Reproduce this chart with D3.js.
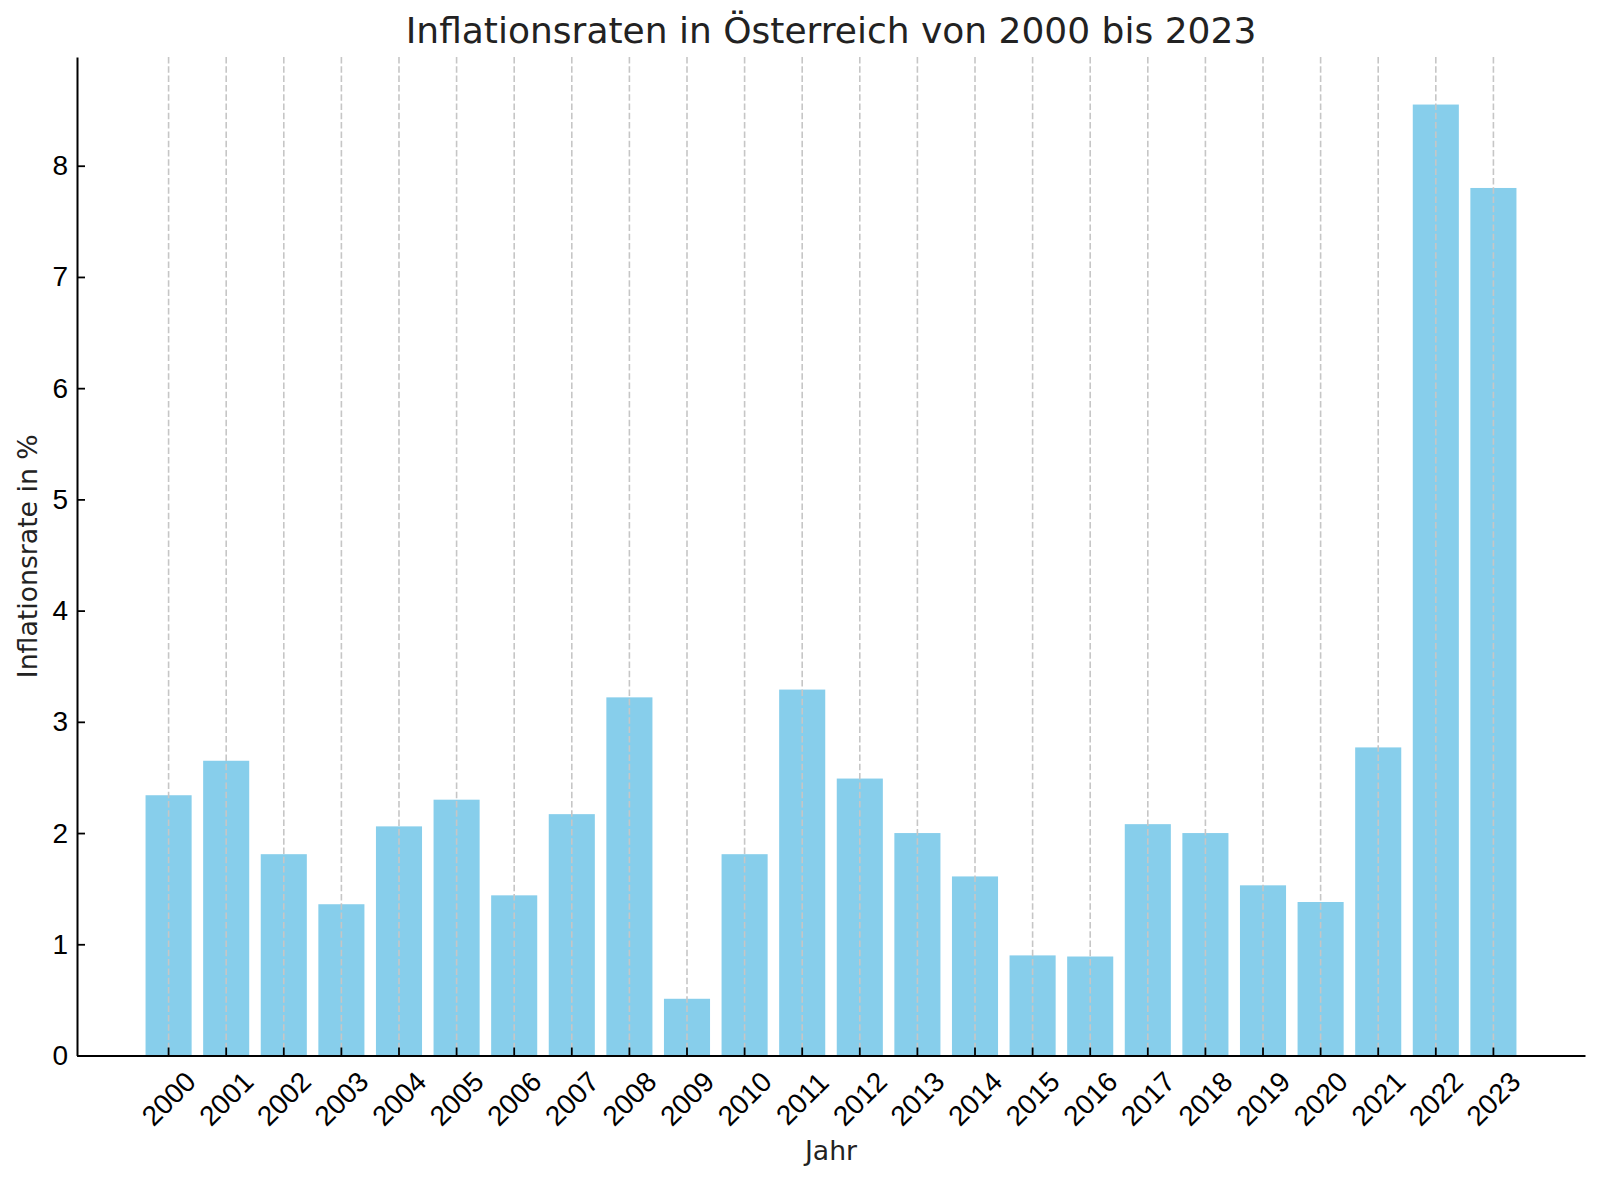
<!DOCTYPE html>
<html>
<head>
<meta charset="utf-8">
<script src="https://cdn.jsdelivr.net/npm/d3@7"></script>
<style>
  body { margin: 0; background: #fff; }
  svg { display: block; font-family: "DejaVu Sans", sans-serif; }
</style>
</head>
<body>
<div id="chart"></div>
<script>
var years = ["2000", "2001", "2002", "2003", "2004", "2005", "2006", "2007", "2008", "2009", "2010", "2011",
             "2012", "2013", "2014", "2015", "2016", "2017", "2018", "2019", "2020", "2021", "2022", "2023"];
var rates = [2.34, 2.65, 1.81, 1.36, 2.06, 2.30, 1.44, 2.17, 3.22, 0.51, 1.81, 3.29,
             2.49, 2.00, 1.61, 0.90, 0.89, 2.08, 2.00, 1.53, 1.38, 2.77, 8.55, 7.80];
var yTicks = [0, 1, 2, 3, 4, 5, 6, 7, 8];

var data = years.map(function(y, i) { return { year: y, rate: rates[i] }; });

var width = 1600, height = 1183;
var mLeft = 77, mRight = 1585, mTop = 57, mBottom = 1055.5;

var svg = d3.select("#chart")
  .append("svg")
  .attr("width", width)
  .attr("height", height);

var x = d3.scaleBand()
  .domain(years)
  .range([mLeft, mRight])
  .paddingInner(0.2)
  .paddingOuter(1.19);

var y = d3.scaleLinear()
  .domain([0, d3.max(rates) * 1.05])
  .range([mBottom, mTop]);

// bars
svg.selectAll("rect.bar")
  .data(data)
  .enter().append("rect")
  .attr("class", "bar")
  .attr("x", function(d) { return x(d.year); })
  .attr("y", function(d) { return y(d.rate); })
  .attr("width", x.bandwidth())
  .attr("height", function(d) { return y(0) - y(d.rate); })
  .style("fill", "#87ceeb");

// vertical dashed grid, over the bars like matplotlib
svg.selectAll("line.grid")
  .data(years)
  .enter().append("line")
  .attr("class", "grid")
  .attr("x1", function(d) { return x(d) + x.bandwidth() / 2; })
  .attr("x2", function(d) { return x(d) + x.bandwidth() / 2; })
  .attr("y1", mTop)
  .attr("y2", mBottom)
  .style("stroke", "#c6c6c6")
  .style("stroke-width", 1.6)
  .style("stroke-dasharray", "6.5,2.8");

// x axis
var gx = svg.append("g")
  .attr("transform", "translate(0," + mBottom + ")")
  .call(d3.axisBottom(x).tickSizeInner(-8).tickSizeOuter(0));
gx.select(".domain").style("stroke", "#000").style("stroke-width", 2);
gx.selectAll(".tick line").style("stroke", "#000").style("stroke-width", 1.8);
gx.selectAll(".tick text")
  .attr("x", 0)
  .attr("y", 0)
  .attr("dy", "0.35em")
  .attr("transform", "translate(0,43) rotate(-45)")
  .style("text-anchor", "middle")
  .style("font-size", "28px")
  .style("fill", "#000");

// y axis
var gy = svg.append("g")
  .attr("transform", "translate(" + mLeft + ",0)")
  .call(d3.axisLeft(y).tickValues(yTicks).tickSizeInner(-8).tickSizeOuter(0).tickPadding(9));
gy.select(".domain").style("stroke", "#000").style("stroke-width", 2);
gy.selectAll(".tick line").style("stroke", "#000").style("stroke-width", 1.8);
gy.selectAll(".tick text")
  .style("font-size", "28px")
  .style("fill", "#000");

// title and labels
svg.append("text")
  .attr("x", (mLeft + mRight) / 2)
  .attr("y", 43)
  .style("text-anchor", "middle")
  .style("font-size", "36px")
  .style("fill", "#222")
  .text("Inflationsraten in Österreich von 2000 bis 2023");

svg.append("text")
  .attr("x", (mLeft + mRight) / 2)
  .attr("y", 1160)
  .style("text-anchor", "middle")
  .style("font-size", "26.7px")
  .style("fill", "#222")
  .text("Jahr");

svg.append("text")
  .attr("transform", "translate(37," + ((mTop + mBottom) / 2) + ") rotate(-90)")
  .style("text-anchor", "middle")
  .style("font-size", "26.7px")
  .style("fill", "#222")
  .text("Inflationsrate in %");
</script>
</body>
</html>
